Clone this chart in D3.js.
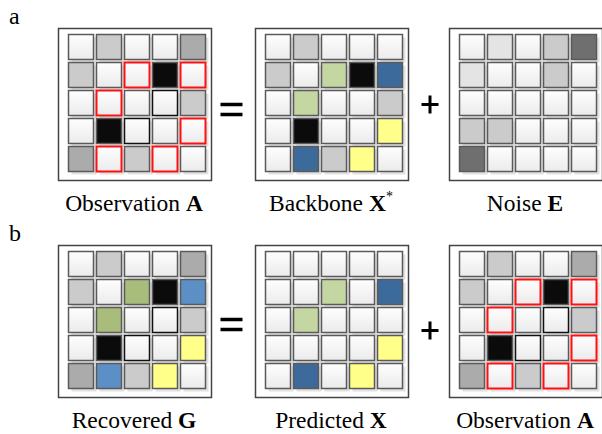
<!DOCTYPE html>
<html>
<head>
<meta charset="utf-8">
<script src="https://cdn.jsdelivr.net/npm/d3@7"></script>
<style>
  body { margin: 0; background: #fff; }
  svg text { font-family: 'Liberation Serif', 'Times New Roman', Times, 'DejaVu Serif', serif; }
</style>
</head>
<body>
<div id="chart"></div>
<script>
// cell codes: w white, v very light gray, l light gray, m mid gray, d dark gray, k black,
// g green, G dark green, b blue, B light blue, y yellow
const observationA = ["wlwwm", "lwwkw", "wwwwl", "wkwww", "mwlww"];
const observationBorders = [".....", "..r.r", ".r.x.", "..x.r", ".r.r."];
const backboneX = ["wlwww", "lwgkb", "wgwwl", "wkwwy", "wblyw"];
const noiseE = ["wvwld", "vwwlw", "wwwww", "llwww", "dwwww"];
const recoveredG = ["wlwwm", "lwGkB", "wGwwl", "wkwwy", "mBlyw"];
const recoveredBorders = [".....", ".....", "...x.", "..x..", "....."];
const predictedX = ["wwwww", "wwgwb", "wgwww", "wwwwy", "wbwyw"];
const plainBorders = [".....", ".....", ".....", ".....", "....."];

const rowLabels = ["a", "b"];
const panels = [
  { row: 0, col: 0, cells: observationA, borders: observationBorders, name: "Observation ", bold: "A", sup: "" },
  { row: 0, col: 1, cells: backboneX, borders: plainBorders, name: "Backbone ", bold: "X", sup: "*" },
  { row: 0, col: 2, cells: noiseE, borders: plainBorders, name: "Noise ", bold: "E", sup: "" },
  { row: 1, col: 0, cells: recoveredG, borders: recoveredBorders, name: "Recovered ", bold: "G", sup: "" },
  { row: 1, col: 1, cells: predictedX, borders: plainBorders, name: "Predicted ", bold: "X", sup: "" },
  { row: 1, col: 2, cells: observationA, borders: observationBorders, name: "Observation ", bold: "A", sup: "" }
];

const fillColor = {
  w: "url(#whiteGrad)", v: "#e4e4e4", l: "#cbcbcb", m: "#ababab", d: "#6f6f6f", k: "#0b0b0b",
  g: "#c4d6a1", G: "#a8bc7b", b: "#3c6b9b", B: "#5b8fc6", y: "#ffff8a"
};
const strokeColor = { ".": "#5a5a5a", r: "#ff1010", x: "#111" };

const width = 602, height = 434;
const svg = d3.select("#chart").append("svg")
  .attr("width", width).attr("height", height);

const grad = svg.append("defs").append("linearGradient")
  .attr("id", "whiteGrad").attr("x1", 0).attr("y1", 0).attr("x2", 0).attr("y2", 1);
grad.append("stop").attr("offset", "0%").attr("stop-color", "#fefefe");
grad.append("stop").attr("offset", "100%").attr("stop-color", "#ebebeb");

const frameW = 153, frameH = 152;
const px = d3.scaleOrdinal().domain([0, 1, 2]).range([58.5, 255.5, 449.5]);
const py = d3.scaleOrdinal().domain([0, 1]).range([28.5, 245.5]);
const cx = d3.scaleBand().domain(d3.range(5)).range([10, 147]).paddingInner(3 / 28);
const cy = d3.scaleBand().domain(d3.range(5)).range([6, 143]).paddingInner(3 / 28);

panels.forEach(function (p) {
  const g = svg.append("g")
    .attr("transform", `translate(${px(p.col)},${py(p.row)})`);

  g.append("rect")
    .attr("width", frameW).attr("height", frameH)
    .attr("fill", "#fff").attr("stroke", "#444").attr("stroke-width", 1.5);

  const data = [];
  p.cells.forEach(function (r, i) {
    r.split("").forEach(function (c, j) {
      data.push({ i: i, j: j, c: c, b: p.borders[i][j] });
    });
  });

  // drop shadows
  g.selectAll(".shadow")
    .data(data)
    .join("rect")
    .attr("class", "shadow")
    .attr("x", d => cx(d.j) + 3)
    .attr("y", d => cy(d.i) + 3)
    .attr("width", cx.bandwidth())
    .attr("height", cy.bandwidth())
    .attr("fill", "#e2e2e2");

  g.selectAll(".cell")
    .data(data)
    .join("rect")
    .attr("class", "cell")
    .attr("x", d => cx(d.j))
    .attr("y", d => cy(d.i))
    .attr("width", cx.bandwidth())
    .attr("height", cy.bandwidth())
    .attr("fill", d => fillColor[d.c])
    .attr("stroke", d => strokeColor[d.b])
    .attr("stroke-width", d => d.b === "r" ? 2 : 1.5);

  const label = svg.append("text")
    .attr("x", px(p.col) + frameW / 2 - 1)
    .attr("y", py(p.row) + frameH + 30)
    .attr("text-anchor", "middle")
    .style("font-size", "23.5px")
    .attr("fill", "#000");
  label.append("tspan").text(p.name);
  label.append("tspan").style("font-weight", "bold").text(p.bold);
  if (p.sup) {
    label.append("tspan").attr("dy", -10).style("font-size", "14px").text(p.sup);
  }
});

rowLabels.forEach(function (l, i) {
  svg.append("text")
    .attr("x", 9)
    .attr("y", py(i) - 4.5)
    .style("font-size", "24px")
    .text(l);
});

// operators between the panels
const eqOffset = [5, 3], plusOffset = [0, 9];
[0, 1].forEach(function (row) {
  const mid = py(row) + frameH / 2;
  const eq = svg.append("g").attr("transform", `translate(231.5,${mid + eqOffset[row]})`);
  eq.append("line").attr("x1", -11).attr("x2", 11).attr("y1", -5).attr("y2", -5)
    .attr("stroke", "#000").attr("stroke-width", 3.5);
  eq.append("line").attr("x1", -11).attr("x2", 11).attr("y1", 5).attr("y2", 5)
    .attr("stroke", "#000").attr("stroke-width", 3.5);
  const plus = svg.append("g").attr("transform", `translate(430,${mid + plusOffset[row]})`);
  plus.append("line").attr("x1", -8.5).attr("x2", 8.5).attr("y1", 0).attr("y2", 0)
    .attr("stroke", "#000").attr("stroke-width", 3);
  plus.append("line").attr("y1", -9).attr("y2", 9).attr("x1", 0).attr("x2", 0)
    .attr("stroke", "#000").attr("stroke-width", 3);
});
</script>
</body>
</html>
